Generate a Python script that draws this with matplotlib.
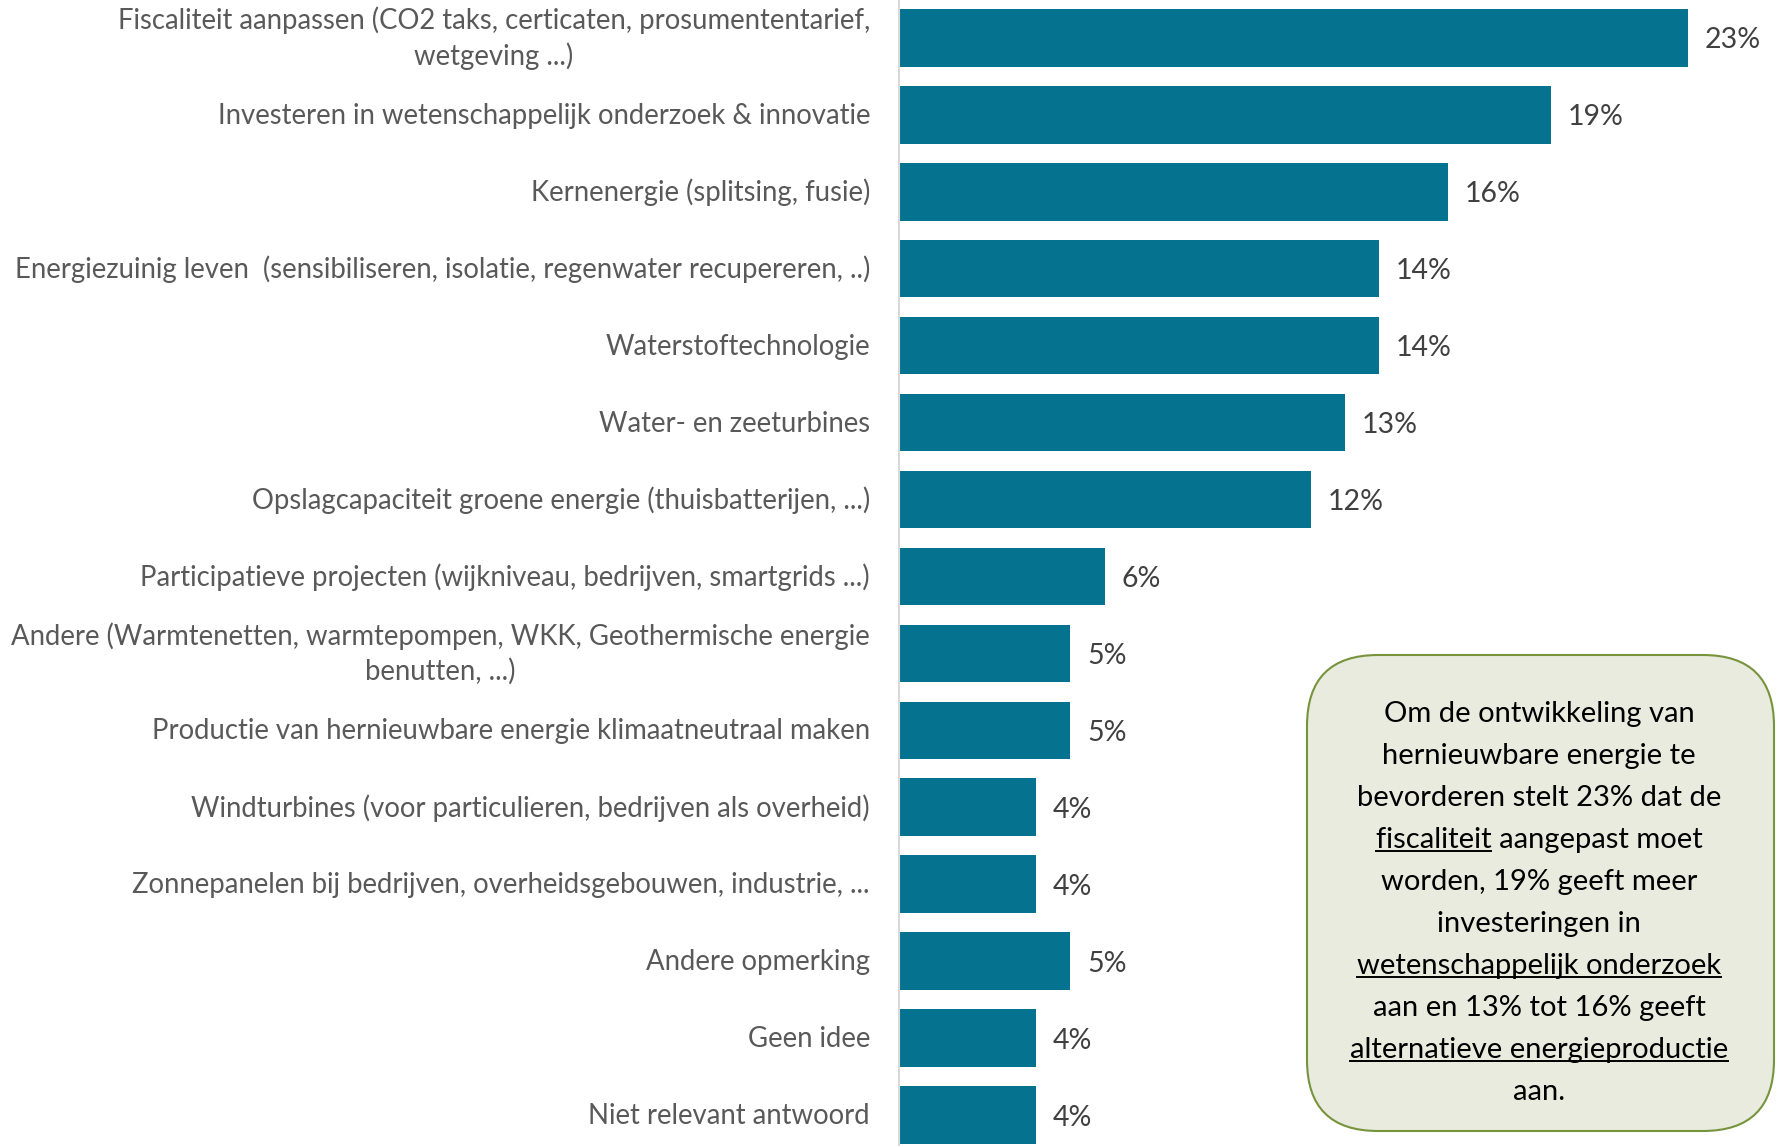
import matplotlib
matplotlib.use("Agg")
import matplotlib.pyplot as plt
import matplotlib.transforms as mtransforms
from matplotlib.patches import FancyBboxPatch

plt.rcParams['font.family'] = ['Lato', 'DejaVu Sans']

categories = [
    "Fiscaliteit aanpassen (CO2 taks, certicaten, prosumententarief,\nwetgeving ...)",
    "Investeren in wetenschappelijk onderzoek & innovatie",
    "Kernenergie (splitsing, fusie)",
    "Energiezuinig leven  (sensibiliseren, isolatie, regenwater recupereren, ..)",
    "Waterstoftechnologie",
    "Water- en zeeturbines",
    "Opslagcapaciteit groene energie (thuisbatterijen, ...)",
    "Participatieve projecten (wijkniveau, bedrijven, smartgrids ...)",
    "Andere (Warmtenetten, warmtepompen, WKK, Geothermische energie\nbenutten, ...)",
    "Productie van hernieuwbare energie klimaatneutraal maken",
    "Windturbines (voor particulieren, bedrijven als overheid)",
    "Zonnepanelen bij bedrijven, overheidsgebouwen, industrie, ...",
    "Andere opmerking",
    "Geen idee",
    "Niet relevant antwoord",
]
values = [23, 19, 16, 14, 14, 13, 12, 6, 5, 5, 4, 4, 5, 4, 4]

# text in the box: (line, underlined part or None)
box_lines = [
    ("Om de ontwikkeling van", None),
    ("hernieuwbare energie te", None),
    ("bevorderen stelt 23% dat de", None),
    ("fiscaliteit aangepast moet", "fiscaliteit"),
    ("worden, 19% geeft meer", None),
    ("investeringen in", None),
    ("wetenschappelijk onderzoek", "wetenschappelijk onderzoek"),
    ("aan en 13% tot 16% geeft", None),
    ("alternatieve energieproductie", "alternatieve energieproductie"),
    ("aan.", None),
]

bar_color = '#05728F'
W, H = 1777, 1146
fig = plt.figure(figsize=(W / 100, H / 100), dpi=100)
ax = fig.add_axes([899 / W, 0, 1 - 899 / W, 1])

y = list(range(len(categories)))
ax.barh(y, values, height=0.75, color=bar_color)
for yi, v in zip(y, values):
    ax.annotate(f"{v}%", (v, yi), xytext=(12, -2), textcoords='offset points',
                va='center', ha='left', fontsize=20.5, color='#404040')

ax.set_xlim(0, 25.6)
ax.set_ylim(14.40, -0.49)
ax.set_yticks([])
ax.set_xticks([])

# category labels drawn as text
one_line = mtransforms.offset_copy(ax.get_yaxis_transform(), fig=fig, x=-0.29, y=-0.01, units='inches')
two_line = mtransforms.offset_copy(ax.get_yaxis_transform(), fig=fig, x=-0.29, y=-0.005, units='inches')
for yi, cat in zip(y, categories):
    tr = two_line if "\n" in cat else one_line
    ax.text(0, yi, cat, transform=tr, ha='right', va='center',
            multialignment='center', linespacing=1.35,
            fontsize=19.8, color='#595959')

for s in ['top', 'right', 'bottom']:
    ax.spines[s].set_visible(False)
ax.spines['left'].set_color('#D9D9D9')
ax.spines['left'].set_linewidth(1.5)

# annotation box
bx0, by0, bx1, by1 = 1307, 655, 1774, 1131
box = FancyBboxPatch((bx0 / W, 1 - by1 / H), (bx1 - bx0) / W, (by1 - by0) / H,
                     boxstyle="round,pad=0,rounding_size=0.04",
                     transform=fig.transFigure, facecolor='#E8EBDE',
                     edgecolor='#77933C', linewidth=1.5,
                     mutation_aspect=W / H)
fig.patches.append(box)

cx = 1539 / W
fig.canvas.draw()
renderer = fig.canvas.get_renderer()
line_y0 = 714
step = 42
for i, (line, under) in enumerate(box_lines):
    ty = 1 - (line_y0 + i * step) / H
    t = fig.text(cx, ty, line, ha='center', va='center', fontsize=21,
                 color='black')
    if under:
        bb = t.get_window_extent(renderer)
        tmp = fig.text(0, 0, under, fontsize=21)
        uw = tmp.get_window_extent(renderer).width
        tmp.remove()
        ux0 = bb.x0
        uy = bb.y0 + 2
        fig.add_artist(plt.Line2D([ux0 / W, (ux0 + uw) / W], [uy / H, uy / H],
                                  transform=fig.transFigure, color='black',
                                  linewidth=1.4))

fig.savefig("out.png", dpi=100)
